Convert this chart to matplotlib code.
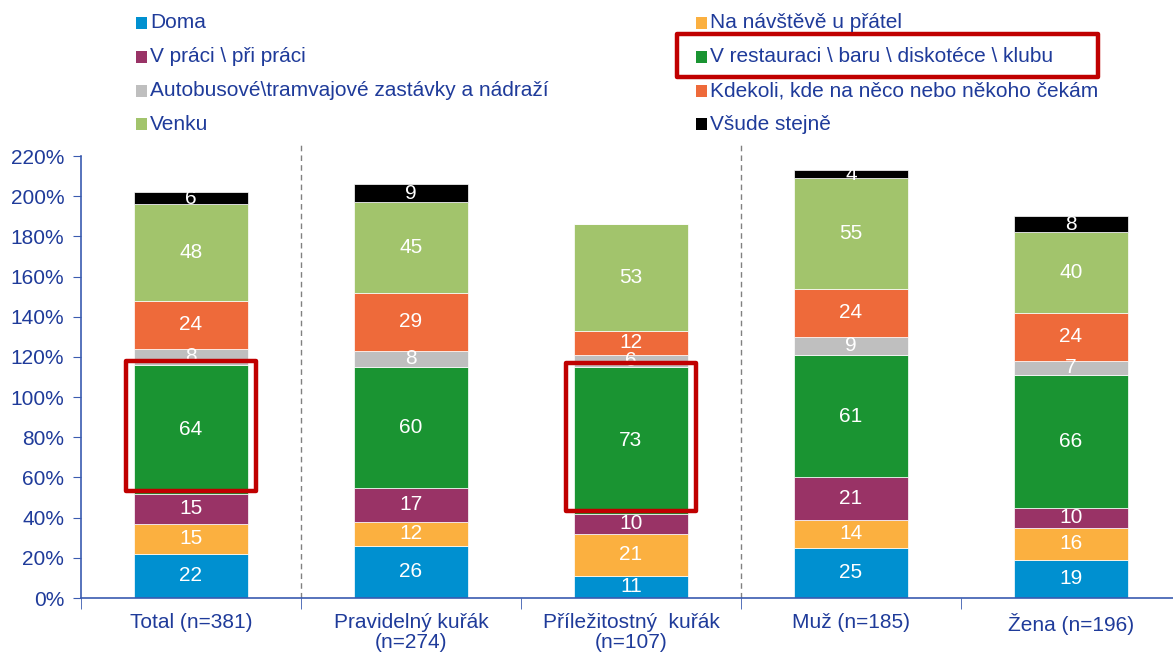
import matplotlib.pyplot as plt
from matplotlib.patches import Rectangle
import numpy as np

plt.rcParams['font.family'] = ['Liberation Sans', 'DejaVu Sans']

# categories (x axis)
groups = ['Total (n=381)', 'Pravidelný kuřák\n(n=274)', 'Příležitostný  kuřák\n(n=107)',
          'Muž (n=185)', 'Žena (n=196)']

# series in stacking order (bottom -> top)
series = ['Doma', 'Na návštěvě u přátel', 'V práci \\ při práci',
          'V restauraci \\ baru \\ diskotéce \\ klubu',
          'Autobusové\\tramvajové zastávky a nádraží',
          'Kdekoli, kde na něco nebo někoho čekám', 'Venku', 'Všude stejně']
doma = [22, 26, 11, 25, 19]
navsteva = [15, 12, 21, 14, 16]
prace = [15, 17, 10, 21, 10]
restaurace = [64, 60, 73, 61, 66]
zastavky = [8, 8, 6, 9, 7]
kdekoli = [24, 29, 12, 24, 24]
venku = [48, 45, 53, 55, 40]
vsude = [6, 9, 0, 4, 8]
values = [doma, navsteva, prace, restaurace, zastavky, kdekoli, venku, vsude]
colors = ['#0090D0', '#FBB040', '#993366', '#1A9432', '#BFBFBF', '#EE6A3A', '#A2C46C', '#000000']

highlight_groups = [0, 2]  # red box around the restaurant segment

txt = '#1F3B9A'
axcol = '#3A5BB0'

fig = plt.figure(figsize=(11.73, 6.52), dpi=100)
ax = fig.add_axes([81 / 1173, 1 - 598 / 652, 1100 / 1173, (598 - 156) / 652])

x = np.arange(len(groups))
bottom = np.zeros(len(groups))
bases = []
for vals, col in zip(values, colors):
    vals = np.array(vals, dtype=float)
    ax.bar(x, vals, 0.52, bottom=bottom, color=col, edgecolor='white', linewidth=0.5, zorder=2)
    for xi, b, v in zip(x, bottom, vals):
        if v > 0:
            ax.text(xi, b + v / 2, f'{int(v)}', ha='center', va='center', color='white',
                    fontsize=15, zorder=4)
    bases.append(bottom.copy())
    bottom = bottom + vals

# red highlight boxes
for g in highlight_groups:
    b = bases[3][g]
    v = restaurace[g]
    ax.add_patch(Rectangle((g - 0.295, b + 1.5), 0.59, v + 0.5, fill=False, edgecolor='#C00000',
                           linewidth=3.2, zorder=5, joinstyle='round'))

# dashed separators
for sx in [0.5, 2.5]:
    ax.plot([sx, sx], [0, 226], ls=(0, (4, 3)), color='#808080', lw=1, clip_on=False, zorder=1)

ax.set_xlim(-0.5, 4.5)
ax.set_ylim(0, 220)
ax.set_yticks(np.arange(0, 221, 20))
ax.set_yticklabels([f'{t}%' for t in range(0, 221, 20)])
ax.set_xticks(x)
ax.set_xticklabels(groups, linespacing=1.05)
ax.set_xticks(np.arange(-0.5, 5, 1), minor=True)
ax.tick_params(axis='x', which='major', length=0, pad=11, labelsize=15, labelcolor=txt)
ax.tick_params(axis='x', which='minor', length=8, color=axcol, direction='out')
ax.tick_params(axis='y', length=6, color=axcol, labelsize=15, labelcolor=txt, pad=6)
for s in ['top', 'right']:
    ax.spines[s].set_visible(False)
for s in ['left', 'bottom']:
    ax.spines[s].set_color(axcol)
    ax.spines[s].set_linewidth(1.2)

# legend, two columns
row_y = [23, 57, 91, 124]
col_x = [136, 696]
for i, (name, col) in enumerate(zip(series, colors)):
    r, c = i // 2, i % 2
    cy = 1 - row_y[r] / 652
    fig.add_artist(Rectangle((col_x[c] / 1173, cy - 5.5 / 652), 11 / 1173, 11 / 652,
                             transform=fig.transFigure, color=col, lw=0))
    fig.text((col_x[c] + 14) / 1173, cy, name, ha='left', va='center', color=txt, fontsize=15)

fig.add_artist(Rectangle((677 / 1173, 1 - 77 / 652), 421 / 1173, 43 / 652, transform=fig.transFigure,
                         fill=False, edgecolor='#C00000', linewidth=3.2, joinstyle='round'))

fig.savefig('out.png', dpi=100)
